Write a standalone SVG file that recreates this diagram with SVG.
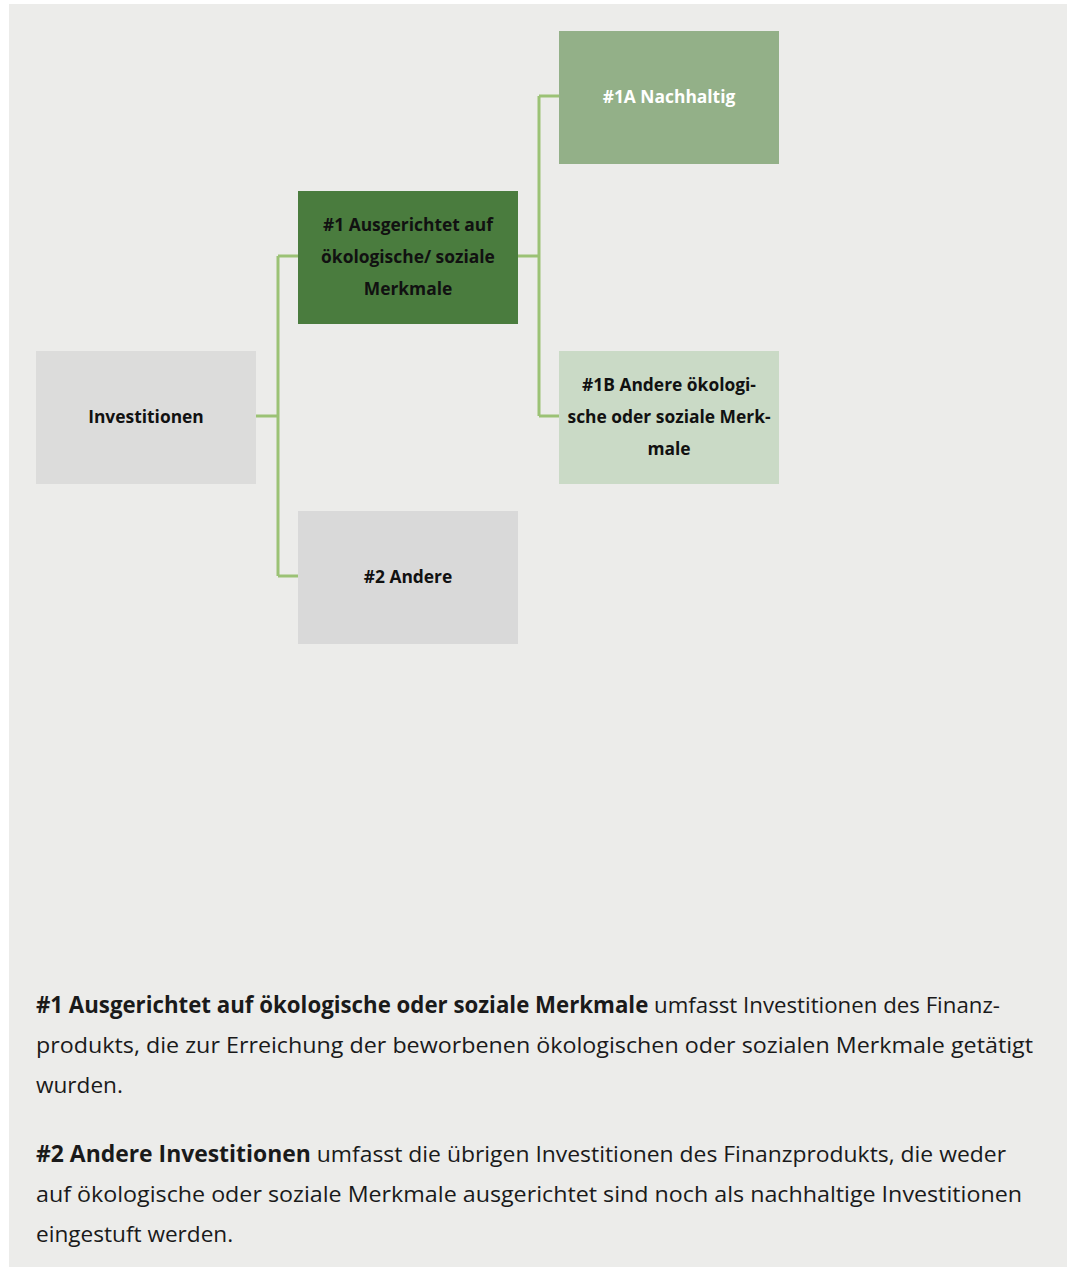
<svg xmlns="http://www.w3.org/2000/svg" width="1072" height="1267" viewBox="0 0 1072 1267">
<style>
.lbl{font-family:"Open Sans","Liberation Sans",sans-serif;font-weight:700;font-size:17.4px;text-anchor:middle;fill:#111}
.body{font-family:"Open Sans","Liberation Sans",sans-serif;font-size:22.6px;fill:#1a1a1a}
.b{font-weight:700}
.conn{fill:none;stroke:#9bc275;stroke-width:3}
</style>
<rect x="0" y="0" width="1072" height="1267" fill="#ffffff"/>
<rect x="9" y="4" width="1058" height="1263" fill="#ececea"/>
<g id="connectors">
<path class="conn" d="M256 416 H278 M278 256 V576 M278 256 H298 M278 576 H298"/>
<path class="conn" d="M518 256 H539 M539 96 V416 M539 96 H559 M539 416 H559"/>
</g>
<g id="node-investitionen">
<rect x="36" y="351" width="220" height="133" fill="#dcdcdb"/>
<text class="lbl" x="146" y="423">Investitionen</text>
</g>
<g id="node-1">
<rect x="298" y="191" width="220" height="133" fill="#4a7c3e"/>
<text class="lbl" x="408" y="231">#1 Ausgerichtet auf</text>
<text class="lbl" x="408" y="263">ökologische/ soziale</text>
<text class="lbl" x="408" y="295">Merkmale</text>
</g>
<g id="node-1a">
<rect x="559" y="31" width="220" height="133" fill="#93b088"/>
<text class="lbl" x="669" y="103" style="fill:#ffffff">#1A Nachhaltig</text>
</g>
<g id="node-1b">
<rect x="559" y="351" width="220" height="133" fill="#cadac6"/>
<text class="lbl" x="669" y="391">#1B Andere ökologi-</text>
<text class="lbl" x="669" y="423">sche oder soziale Merk-</text>
<text class="lbl" x="669" y="455">male</text>
</g>
<g id="node-2">
<rect x="298" y="511" width="220" height="133" fill="#d9d9d9"/>
<text class="lbl" x="408" y="583">#2 Andere</text>
</g>
<g id="legend">
<text class="body" x="36" y="1013" textLength="964" lengthAdjust="spacingAndGlyphs"><tspan class="b">#1 Ausgerichtet auf ökologische oder soziale Merkmale</tspan> umfasst Investitionen des Finanz-</text>
<text class="body" x="36" y="1053" textLength="997" lengthAdjust="spacingAndGlyphs">produkts, die zur Erreichung der beworbenen ökologischen oder sozialen Merkmale getätigt</text>
<text class="body" x="36" y="1093">wurden.</text>
<text class="body" x="36" y="1162" textLength="970" lengthAdjust="spacingAndGlyphs"><tspan class="b">#2 Andere Investitionen</tspan> umfasst die übrigen Investitionen des Finanzprodukts, die weder</text>
<text class="body" x="36" y="1202" textLength="986" lengthAdjust="spacingAndGlyphs">auf ökologische oder soziale Merkmale ausgerichtet sind noch als nachhaltige Investitionen</text>
<text class="body" x="36" y="1242">eingestuft werden.</text>
</g>
</svg>
